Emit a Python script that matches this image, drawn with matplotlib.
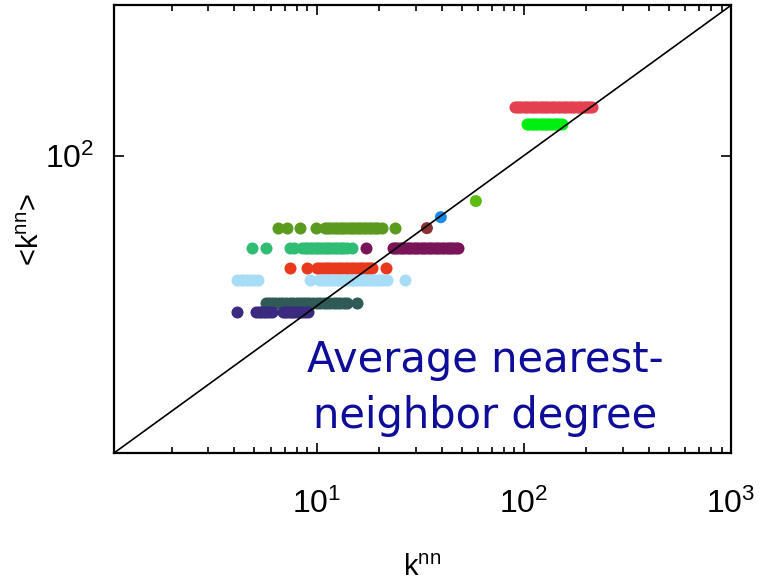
"""Average nearest-neighbor degree: <k_nn> vs k_nn on log-log axes with y = x line."""
import matplotlib
matplotlib.use("Agg")
import matplotlib.pyplot as plt
from matplotlib.ticker import NullFormatter, NullLocator, FixedLocator, LogLocator

plt.rcParams["font.family"] = ["Liberation Sans", "DejaVu Sans"]
plt.rcParams["mathtext.fontset"] = "custom"
plt.rcParams["mathtext.rm"] = "Liberation Sans"

# rows of points: (x values, y value, colour)
red_top_x = [91, 93, 95, 97, 100, 102, 105, 108, 110, 113, 116, 119, 122, 125, 128, 131, 135,
             138, 142, 146, 150, 154, 158, 162, 166, 170, 175, 180, 184, 189, 194, 199, 204, 209, 214]
red_top_y = 210
lime_x = [103, 105, 108, 110, 113, 116, 119, 122, 125, 128, 131, 134, 138, 141, 145, 148, 152]
lime_y = 161
olive_x = [6.5, 7.2, 8.3, 9.9, 10.9, 11.2, 11.5, 11.9, 12.2, 12.5, 12.9, 13.2, 13.6, 14.0, 14.4,
           14.8, 15.2, 15.6, 16.0, 16.4, 16.9, 17.3, 17.8, 18.3, 18.8, 19.3, 19.8, 20.6, 23.8]
olive_y = 32.9
seagreen_x = [4.85, 5.7, 7.4, 7.8, 8.5, 8.8, 9.0, 9.3, 9.5, 9.8, 10.0, 10.3, 10.6, 10.9, 11.2,
              11.5, 11.8, 12.2, 12.5, 12.9, 13.2, 13.6, 14.0, 14.8]
seagreen_y = 24.2
purple_x = [17.3, 23.3, 23.9, 24.5, 25.1, 25.8, 26.5, 27.2, 27.9, 28.6, 29.3, 30.1, 30.9, 31.7,
            32.5, 33.4, 34.3, 35.2, 36.1, 37.1, 38.1, 39.1, 40.1, 41.2, 42.3, 43.4, 44.5, 45.7,
            46.8, 48]
purple_y = 24.2
orange_x = [7.4, 8.95, 10.0, 10.3, 10.6, 10.9, 11.2, 11.5, 11.9, 12.2, 12.6, 13.0, 13.4, 13.8,
            14.2, 14.6, 15.0, 15.4, 15.9, 16.3, 16.8, 17.2, 17.7, 18.1, 18.5, 21.5]
orange_y = 17.8
skyblue_x = [4.1, 4.3, 4.4, 4.6, 4.8, 5.0, 5.2, 9.25, 10.3, 10.6, 10.9, 11.2, 11.6, 11.9, 12.3,
             12.7, 13.1, 13.5, 13.9, 14.3, 14.8, 15.2, 15.7, 16.2, 16.7, 17.2, 17.8, 18.3, 18.9,
             19.5, 20.1, 20.9, 21.8, 26.6]
skyblue_y = 14.8
slate_x = [5.7, 5.9, 6.1, 6.3, 6.6, 6.8, 7.1, 7.4, 7.7, 8.0, 8.3, 8.6, 8.9, 9.2, 9.6, 10.0, 10.4,
           10.8, 11.2, 11.6, 12.1, 12.5, 13.0, 13.5, 14.0, 15.6]
slate_y = 10.4
indigo_x = [4.1, 5.1, 5.25, 5.4, 5.55, 5.7, 5.9, 6.1, 6.85, 7.0, 7.2, 7.4, 7.6, 7.8, 8.0, 8.2,
            8.5, 8.8, 9.05]
indigo_y = 9.1
single_x = [58.6, 39.7, 34]
single_y = [49.8, 38.9, 32.9]
single_colors = ["#5cbb10", "#1e88e5", "#8b3030"]

rows = [
    (olive_x, olive_y, "#5a9a1e"),
    (seagreen_x, seagreen_y, "#2ebd72"),
    (purple_x, purple_y, "#7a1458"),
    (orange_x, orange_y, "#e8391c"),
    (skyblue_x, skyblue_y, "#a8ddf8"),
    (slate_x, slate_y, "#2f5a55"),
    (indigo_x, indigo_y, "#3b2a80"),
    (red_top_x, red_top_y, "#e5404f"),
    (lime_x, lime_y, "#00ee10"),
]

fig = plt.figure(figsize=(7.6, 5.83), dpi=100)
ax = fig.add_axes([0.15, 0.223, 0.812, 0.768])

for xs, yv, c in rows:
    ax.scatter(xs, [yv] * len(xs), s=75, color=c, linewidths=0, zorder=2)
ax.scatter(single_x, single_y, s=75, c=single_colors, linewidths=0, zorder=2)

lims = (1.05, 1000)
ax.plot(lims, lims, color="black", lw=1.2, zorder=3)
ax.set_xscale("log")
ax.set_yscale("log")
ax.set_xlim(lims)
ax.set_ylim(lims)

ax.xaxis.set_major_locator(FixedLocator([10, 100, 1000]))
ax.xaxis.set_minor_locator(LogLocator(base=10, subs=range(2, 10)))
ax.xaxis.set_minor_formatter(NullFormatter())
ax.set_xticklabels([r"$\mathregular{10^{1}}$", r"$\mathregular{10^{2}}$", r"$\mathregular{10^{3}}$"])
ax.yaxis.set_major_locator(FixedLocator([100]))
ax.yaxis.set_minor_locator(NullLocator())
ax.set_yticklabels([r"$\mathregular{10^{2}}$"])

ax.tick_params(which="both", direction="in", top=True, right=True, labelsize=23, width=1.2)
ax.tick_params(axis="x", pad=26)
ax.tick_params(axis="y", pad=14)
ax.tick_params(which="major", length=7)
ax.tick_params(which="minor", length=4)
for sp in ax.spines.values():
    sp.set_linewidth(1.6)

ax.set_xlabel(r"k$^{\mathregular{nn}}$", fontsize=21, labelpad=24)
ax.set_ylabel(r"<k$^{\mathregular{nn}}$>", fontsize=21, labelpad=0)

fig.text(0.638, 1 - 372 / 583, "Average nearest-", ha="center", va="baseline",
         fontsize=30, color="#0d0d99", family="DejaVu Sans", zorder=4)
fig.text(0.638, 1 - 428 / 583, "neighbor degree", ha="center", va="baseline",
         fontsize=30, color="#0d0d99", family="DejaVu Sans", zorder=4)

plt.savefig("out.png", dpi=100)
plt.close()
